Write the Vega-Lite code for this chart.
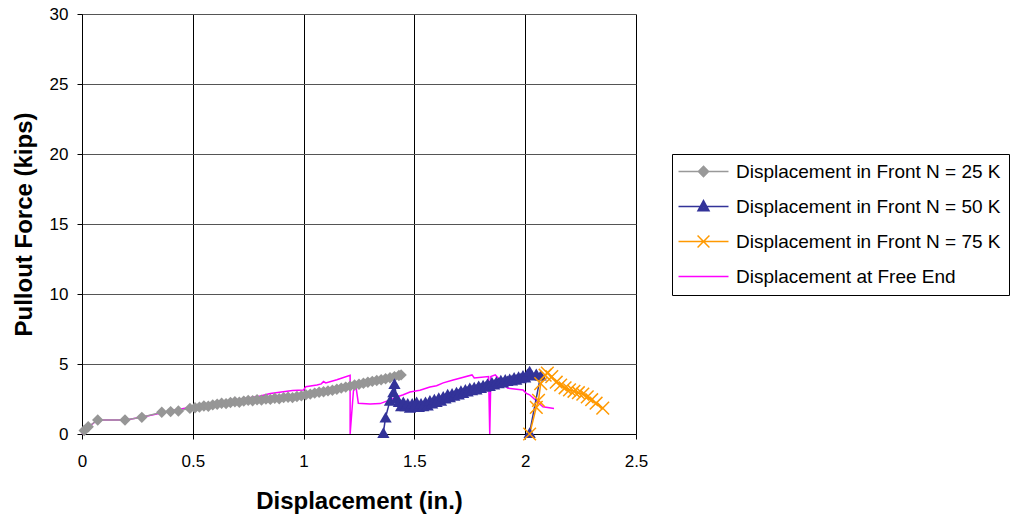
{
  "$schema": "https://vega.github.io/schema/vega-lite/v6.json",
  "width": 554,
  "height": 420,
  "autosize": {"type": "none"},
  "padding": {"left": 82, "top": 14, "right": 377, "bottom": 87},
  "background": "white",
  "datasets": {
    "names": [
      {"s": "g", "series": "Displacement in Front N = 25 K"},
      {"s": "n", "series": "Displacement in Front N = 50 K"},
      {"s": "o", "series": "Displacement in Front N = 75 K"},
      {"s": "f", "series": "Displacement at Free End"}
    ],
    "pts": [
      {"s":"f","i":0,"x":0,"y":0},{"s":"f","i":1,"x":0.03,"y":0.5},{"s":"f","i":2,"x":0.07,"y":1.0},{"s":"f","i":3,"x":0.2,"y":1.0},{"s":"f","i":4,"x":0.3,"y":1.3},{"s":"f","i":5,"x":0.4,"y":1.65},{"s":"f","i":6,"x":0.5,"y":1.95},{"s":"f","i":7,"x":0.6,"y":2.2},{"s":"f","i":8,"x":0.7,"y":2.45},{"s":"f","i":9,"x":0.8,"y":2.7},{"s":"f","i":10,"x":0.85,"y":2.9},{"s":"f","i":11,"x":0.95,"y":3.1},{"s":"f","i":12,"x":1.0,"y":3.15},{"s":"f","i":13,"x":1.01,"y":3.38},{"s":"f","i":14,"x":1.06,"y":3.5},{"s":"f","i":15,"x":1.08,"y":3.58},{"s":"f","i":16,"x":1.09,"y":3.75},{"s":"f","i":17,"x":1.1,"y":3.65},{"s":"f","i":18,"x":1.15,"y":3.88},{"s":"f","i":19,"x":1.21,"y":4.2},{"s":"f","i":20,"x":1.21,"y":0},{"s":"f","i":21,"x":1.225,"y":3.1},{"s":"f","i":22,"x":1.236,"y":3.42},{"s":"f","i":23,"x":1.247,"y":2.2},{"s":"f","i":24,"x":1.3,"y":2.15},{"s":"f","i":25,"x":1.345,"y":2.17},{"s":"f","i":26,"x":1.375,"y":2.35},{"s":"f","i":27,"x":1.43,"y":2.7},{"s":"f","i":28,"x":1.45,"y":2.8},{"s":"f","i":29,"x":1.48,"y":3.0},{"s":"f","i":30,"x":1.525,"y":3.12},{"s":"f","i":31,"x":1.57,"y":3.36},{"s":"f","i":32,"x":1.6,"y":3.45},{"s":"f","i":33,"x":1.63,"y":3.65},{"s":"f","i":34,"x":1.675,"y":3.86},{"s":"f","i":35,"x":1.76,"y":4.22},{"s":"f","i":36,"x":1.77,"y":4.0},{"s":"f","i":37,"x":1.835,"y":4.1},{"s":"f","i":38,"x":1.84,"y":0},{"s":"f","i":39,"x":1.845,"y":4.1},{"s":"f","i":40,"x":1.865,"y":4.22},{"s":"f","i":41,"x":1.92,"y":3.28},{"s":"f","i":42,"x":1.99,"y":3.14},{"s":"f","i":43,"x":2.005,"y":2.9},{"s":"f","i":44,"x":2.02,"y":2.8},{"s":"f","i":45,"x":2.08,"y":1.95},{"s":"f","i":46,"x":2.13,"y":1.82},
      {"s":"g","i":47,"x":0.01,"y":0.25},{"s":"g","i":48,"x":0.028,"y":0.52},{"s":"g","i":49,"x":0.071,"y":1.0},{"s":"g","i":50,"x":0.194,"y":1.0},{"s":"g","i":51,"x":0.27,"y":1.19},{"s":"g","i":52,"x":0.36,"y":1.55},{"s":"g","i":53,"x":0.4,"y":1.6},{"s":"g","i":54,"x":0.435,"y":1.64},{"s":"g","i":55,"x":0.487,"y":1.83},{"s":"g","i":56,"x":0.51,"y":1.88},{"s":"g","i":57,"x":0.53,"y":1.92},{"s":"g","i":58,"x":0.55,"y":2.0},{"s":"g","i":59,"x":0.57,"y":1.98},{"s":"g","i":60,"x":0.59,"y":2.08},{"s":"g","i":61,"x":0.61,"y":2.12},{"s":"g","i":62,"x":0.63,"y":2.2},{"s":"g","i":63,"x":0.65,"y":2.17},{"s":"g","i":64,"x":0.67,"y":2.25},{"s":"g","i":65,"x":0.69,"y":2.3},{"s":"g","i":66,"x":0.71,"y":2.27},{"s":"g","i":67,"x":0.73,"y":2.35},{"s":"g","i":68,"x":0.75,"y":2.4},{"s":"g","i":69,"x":0.77,"y":2.38},{"s":"g","i":70,"x":0.79,"y":2.45},{"s":"g","i":71,"x":0.81,"y":2.42},{"s":"g","i":72,"x":0.83,"y":2.5},{"s":"g","i":73,"x":0.85,"y":2.47},{"s":"g","i":74,"x":0.87,"y":2.55},{"s":"g","i":75,"x":0.89,"y":2.52},{"s":"g","i":76,"x":0.91,"y":2.6},{"s":"g","i":77,"x":0.93,"y":2.62},{"s":"g","i":78,"x":0.95,"y":2.6},{"s":"g","i":79,"x":0.97,"y":2.68},{"s":"g","i":80,"x":0.99,"y":2.72},{"s":"g","i":81,"x":1.01,"y":2.8},{"s":"g","i":82,"x":1.03,"y":2.85},{"s":"g","i":83,"x":1.05,"y":2.92},{"s":"g","i":84,"x":1.07,"y":2.98},{"s":"g","i":85,"x":1.09,"y":3.02},{"s":"g","i":86,"x":1.11,"y":3.08},{"s":"g","i":87,"x":1.13,"y":3.12},{"s":"g","i":88,"x":1.15,"y":3.2},{"s":"g","i":89,"x":1.17,"y":3.28},{"s":"g","i":90,"x":1.19,"y":3.35},{"s":"g","i":91,"x":1.21,"y":3.42},{"s":"g","i":92,"x":1.23,"y":3.5},{"s":"g","i":93,"x":1.25,"y":3.55},{"s":"g","i":94,"x":1.27,"y":3.62},{"s":"g","i":95,"x":1.29,"y":3.7},{"s":"g","i":96,"x":1.31,"y":3.76},{"s":"g","i":97,"x":1.33,"y":3.82},{"s":"g","i":98,"x":1.35,"y":3.88},{"s":"g","i":99,"x":1.37,"y":3.95},{"s":"g","i":100,"x":1.39,"y":4.02},{"s":"g","i":101,"x":1.41,"y":4.1},{"s":"g","i":102,"x":1.43,"y":4.18},{"s":"g","i":103,"x":1.44,"y":4.22},
      {"s":"n","i":104,"x":1.36,"y":0.1},{"s":"n","i":105,"x":1.37,"y":1.2},{"s":"n","i":106,"x":1.39,"y":2.4},{"s":"n","i":107,"x":1.405,"y":3.0},{"s":"n","i":108,"x":1.41,"y":3.6},{"s":"n","i":109,"x":1.42,"y":2.6},{"s":"n","i":110,"x":1.43,"y":2.3},{"s":"n","i":111,"x":1.44,"y":2.0},{"s":"n","i":112,"x":1.45,"y":2.3},{"s":"n","i":113,"x":1.46,"y":2.0},{"s":"n","i":114,"x":1.47,"y":2.2},{"s":"n","i":115,"x":1.48,"y":1.9},{"s":"n","i":116,"x":1.49,"y":2.2},{"s":"n","i":117,"x":1.5,"y":2.0},{"s":"n","i":118,"x":1.51,"y":2.3},{"s":"n","i":119,"x":1.52,"y":1.95},{"s":"n","i":120,"x":1.53,"y":2.2},{"s":"n","i":121,"x":1.54,"y":2.0},{"s":"n","i":122,"x":1.55,"y":2.3},{"s":"n","i":123,"x":1.56,"y":2.05},{"s":"n","i":124,"x":1.57,"y":2.4},{"s":"n","i":125,"x":1.58,"y":2.2},{"s":"n","i":126,"x":1.59,"y":2.5},{"s":"n","i":127,"x":1.6,"y":2.3},{"s":"n","i":128,"x":1.61,"y":2.6},{"s":"n","i":129,"x":1.62,"y":2.4},{"s":"n","i":130,"x":1.63,"y":2.7},{"s":"n","i":131,"x":1.64,"y":2.55},{"s":"n","i":132,"x":1.65,"y":2.85},{"s":"n","i":133,"x":1.66,"y":2.65},{"s":"n","i":134,"x":1.67,"y":2.9},{"s":"n","i":135,"x":1.68,"y":2.75},{"s":"n","i":136,"x":1.69,"y":3.0},{"s":"n","i":137,"x":1.7,"y":2.85},{"s":"n","i":138,"x":1.71,"y":3.1},{"s":"n","i":139,"x":1.72,"y":2.95},{"s":"n","i":140,"x":1.73,"y":3.2},{"s":"n","i":141,"x":1.74,"y":3.05},{"s":"n","i":142,"x":1.75,"y":3.3},{"s":"n","i":143,"x":1.76,"y":3.15},{"s":"n","i":144,"x":1.77,"y":3.35},{"s":"n","i":145,"x":1.78,"y":3.2},{"s":"n","i":146,"x":1.79,"y":3.45},{"s":"n","i":147,"x":1.8,"y":3.3},{"s":"n","i":148,"x":1.81,"y":3.5},{"s":"n","i":149,"x":1.82,"y":3.4},{"s":"n","i":150,"x":1.83,"y":3.6},{"s":"n","i":151,"x":1.84,"y":3.45},{"s":"n","i":152,"x":1.85,"y":3.7},{"s":"n","i":153,"x":1.86,"y":3.55},{"s":"n","i":154,"x":1.87,"y":3.75},{"s":"n","i":155,"x":1.88,"y":3.65},{"s":"n","i":156,"x":1.89,"y":3.85},{"s":"n","i":157,"x":1.9,"y":3.7},{"s":"n","i":158,"x":1.91,"y":3.9},{"s":"n","i":159,"x":1.92,"y":3.8},{"s":"n","i":160,"x":1.93,"y":3.95},{"s":"n","i":161,"x":1.94,"y":3.85},{"s":"n","i":162,"x":1.95,"y":4.05},{"s":"n","i":163,"x":1.96,"y":3.9},{"s":"n","i":164,"x":1.97,"y":4.1},{"s":"n","i":165,"x":1.98,"y":4.0},{"s":"n","i":166,"x":1.99,"y":4.2},{"s":"n","i":167,"x":2.0,"y":4.05},{"s":"n","i":168,"x":2.01,"y":4.3},{"s":"n","i":169,"x":2.02,"y":4.5},{"s":"n","i":170,"x":2.03,"y":4.2},{"s":"n","i":171,"x":2.05,"y":4.3},{"s":"n","i":172,"x":2.07,"y":4.2},{"s":"n","i":173,"x":2.02,"y":0.1},
      {"s":"o","i":174,"x":2.02,"y":0},{"s":"o","i":175,"x":2.05,"y":1.9},{"s":"o","i":176,"x":2.06,"y":2.4},{"s":"o","i":177,"x":2.07,"y":3.6},{"s":"o","i":178,"x":2.09,"y":4.2},{"s":"o","i":179,"x":2.1,"y":4.35},{"s":"o","i":180,"x":2.12,"y":4.1},{"s":"o","i":181,"x":2.14,"y":3.7},{"s":"o","i":182,"x":2.16,"y":3.5},{"s":"o","i":183,"x":2.18,"y":3.3},{"s":"o","i":184,"x":2.2,"y":3.15},{"s":"o","i":185,"x":2.22,"y":3.05},{"s":"o","i":186,"x":2.24,"y":2.95},{"s":"o","i":187,"x":2.26,"y":2.85},{"s":"o","i":188,"x":2.28,"y":2.65},{"s":"o","i":189,"x":2.3,"y":2.45},{"s":"o","i":190,"x":2.32,"y":2.2},{"s":"o","i":191,"x":2.35,"y":1.85}
    ]
  },
  "data": {"name": "pts"},
  "transform": [
    {"lookup": "s", "from": {"data": {"name": "names"}, "key": "s", "fields": ["series"]}}
  ],
  "encoding": {
    "x": {
      "field": "x", "type": "quantitative",
      "scale": {"domain": [0, 2.5], "nice": false, "zero": false},
      "axis": {
        "values": [0, 0.5, 1, 1.5, 2, 2.5], "format": "~g",
        "title": "Displacement (in.)",
        "grid": true, "gridColor": "#000", "gridWidth": 1,
        "labelPadding": 14, "titlePadding": 20, "labelFlush": false
      }
    },
    "y": {
      "field": "y", "type": "quantitative",
      "scale": {"domain": [0, 30], "nice": false},
      "axis": {
        "values": [0, 5, 10, 15, 20, 25, 30],
        "title": "Pullout Force (kips)",
        "grid": true, "gridColor": "#555", "gridWidth": 1,
        "labelPadding": 9, "titlePadding": 13, "labelFlush": false
      }
    }
  },
  "layer": [
    {
      "transform": [{"filter": "datum.i == 0 || datum.i == 47 || datum.i == 104 || datum.i == 174"}],
      "mark": {"type": "point", "filled": false, "opacity": 0, "size": 289},
      "encoding": {
        "color": {
          "field": "series", "type": "nominal",
          "scale": {
            "domain": ["Displacement in Front N = 25 K", "Displacement in Front N = 50 K", "Displacement in Front N = 75 K", "Displacement at Free End"],
            "range": ["#999999", "#333399", "#FF9900", "#FF00FF"]
          },
          "legend": {
            "title": null, "orient": "none", "legendX": 590, "legendY": 140,
            "strokeColor": "#000", "padding": 8, "fillColor": "white",
            "labelFontSize": 19, "labelColor": "#000", "labelFont": "Liberation Sans", "labelLimit": 500,
            "symbolSize": 289, "symbolStrokeWidth": 1.5, "symbolOffset": 14, "labelOffset": 23,
            "rowPadding": 15, "symbolOpacity": 1
          }
        },
        "shape": {
          "field": "series", "type": "nominal",
          "scale": {
            "domain": ["Displacement in Front N = 25 K", "Displacement in Front N = 50 K", "Displacement in Front N = 75 K", "Displacement at Free End"],
            "range": [
              "M-2.94,0L2.94,0M0,-0.6L0.6,0L0,0.6L-0.6,0ZM0,-0.45L0.45,0L0,0.45L-0.45,0ZM0,-0.3L0.3,0L0,0.3L-0.3,0ZM0,-0.15L0.15,0L0,0.15L-0.15,0Z",
              "M-2.94,0L2.94,0M0,-0.7L0.65,0.5L-0.65,0.5ZM0,-0.5L0.4875,0.4L-0.4875,0.4ZM0,-0.3L0.325,0.3L-0.325,0.3ZM0,-0.1L0.1625,0.2L-0.1625,0.2Z",
              "M-2.94,0L2.94,0M-0.7,-0.7L0.7,0.7M-0.7,0.7L0.7,-0.7",
              "M-2.94,0L2.94,0"
            ]
          },
          "legend": {
            "title": null, "orient": "none", "legendX": 590, "legendY": 140,
            "strokeColor": "#000", "padding": 8, "fillColor": "white",
            "labelFontSize": 19, "labelColor": "#000", "labelFont": "Liberation Sans", "labelLimit": 500,
            "symbolSize": 289, "symbolStrokeWidth": 1.5, "symbolOffset": 14, "labelOffset": 23,
            "rowPadding": 15, "symbolOpacity": 1
          }
        }
      }
    },
    {
      "mark": {"type": "line", "strokeWidth": 1.5},
      "encoding": {
        "order": {"field": "i", "type": "quantitative"},
        "color": {"field": "series", "type": "nominal"}
      }
    },
    {
      "transform": [{"filter": "datum.s == 'g'"}],
      "mark": {"type": "point", "shape": "diamond", "filled": true, "size": 130, "color": "#969696", "opacity": 1}
    },
    {
      "transform": [{"filter": "datum.s == 'n'"}],
      "mark": {"type": "point", "shape": "triangle-up", "filled": true, "size": 150, "color": "#333399", "opacity": 1}
    },
    {
      "transform": [{"filter": "datum.s == 'o'"}],
      "mark": {"type": "point", "shape": "M-1,-1L1,1M-1,1L1,-1", "filled": false, "size": 160, "strokeWidth": 1.5, "color": "#FF9900", "opacity": 1}
    }
  ],
  "config": {
    "font": "Liberation Sans",
    "view": {"stroke": null},
    "axis": {
      "domainColor": "#000", "domainWidth": 1,
      "tickColor": "#000", "tickSize": 5,
      "labelFont": "Liberation Sans", "labelFontSize": 17, "labelColor": "#000",
      "titleFont": "Liberation Sans", "titleFontSize": 24, "titleFontWeight": "bold", "titleColor": "#000"
    }
  }
}
